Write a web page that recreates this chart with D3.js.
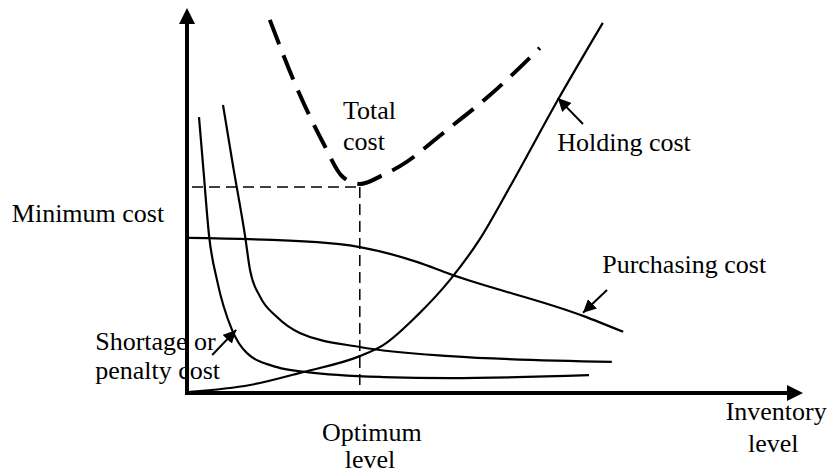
<!DOCTYPE html>
<html>
<head>
<meta charset="utf-8">
<script src="https://cdn.jsdelivr.net/npm/d3@7"></script>
<style>
  html, body { margin: 0; padding: 0; background: #fff; }
</style>
</head>
<body>
<svg id="chart" width="835" height="474"></svg>
<script>
// inventory level (x) and cost (y), both on a 0-100 schematic scale
var totalCost = [[13.8, 98.2], [18.3, 80.3], [22.7, 65.8], [26, 56.8], [28.8, 55], [32.7, 57.4], [35.5, 59.7], [43.3, 69.2], [50.5, 78.4], [58.8, 90.8]];
var holdingCost = [[0.5, 0.3], [10.5, 2.1], [19.3, 5.5], [28.8, 9.7], [32.7, 12.6], [38.3, 20.3], [43.8, 29.7], [48.8, 40.5], [53.8, 54.2], [61.8, 77.1], [69.3, 97.4]];
var purchasingCost = [[0.3, 40.8], [21.7, 39.7], [28.8, 38.4], [38.3, 34.5], [43.8, 31.3], [66, 20.3], [72.7, 16.1]];
var shortageCost = [[2, 72.6], [2.7, 59.5], [3.7, 41.1], [5, 29.7], [7.5, 16.6], [10, 10.5], [15, 6.8], [20, 5.5], [32.7, 4.2], [43.8, 3.9], [67, 4.7]];
var penaltyCost = [[6, 75.8], [7.7, 59.5], [9.7, 41.1], [10.5, 32.4], [12.2, 25.3], [15, 20], [18.8, 15.8], [28.8, 12.1], [43.8, 9.7], [70.8, 8.2]];

var optimumLevel = 28.8;
var minimumCost = 54.2;

// text labels: [text, x, y, anchor]
var labels = [
    ["Total", 26, 72.1, "start"],
    ["cost", 26, 63.9, "start"],
    ["Holding cost", 61.7, 63.7, "start"],
    ["Minimum cost", -29.2, 45, "start"],
    ["Purchasing cost", 69.2, 31.6, "start"],
    ["Shortage or", -15.3, 11.3, "start"],
    ["penalty cost", -15.3, 3.7, "start"],
    ["Optimum", 30.8, -12.6, "middle"],
    ["level", 30.5, -19.8, "middle"],
    ["Inventory", 98.2, -7.1, "middle"],
    ["level", 97.7, -15.5, "middle"]
];

// pointer arrows: [from, to]
var pointers = [
    [[66, 70.8], [61.8, 77.6]],
    [[70, 27.1], [66, 21.1]],
    [[4.2, 10], [8.2, 16.6]]
];

var svg = d3.select("#chart");

var x = d3.scaleLinear().domain([0, 100]).range([187, 787]);
var y = d3.scaleLinear().domain([0, 100]).range([393, 13]);

var defs = svg.append("defs");
defs.append("marker")
    .attr("id", "ptr")
    .attr("viewBox", "0 0 10 10")
    .attr("refX", 10).attr("refY", 5)
    .attr("markerWidth", 6.5).attr("markerHeight", 6.5)
    .attr("markerUnits", "strokeWidth")
    .attr("orient", "auto")
    .append("path").attr("d", "M0,0 L10,5 L0,10 Z").attr("fill", "#000");

// labels first so the axis and curves sit on top of them
svg.append("g").attr("class", "labels").selectAll("text")
    .data(labels)
    .enter().append("text")
    .attr("x", function(d) { return x(d[1]); })
    .attr("y", function(d) { return y(d[2]); })
    .attr("text-anchor", function(d) { return d[3]; })
    .attr("font-family", "'Liberation Serif', 'Times New Roman', Times, 'DejaVu Serif', serif")
    .attr("font-size", "26px")
    .attr("fill", "#000")
    .text(function(d) { return d[0]; });

var line = d3.line()
    .x(function(d) { return x(d[0]); })
    .y(function(d) { return y(d[1]); })
    .curve(d3.curveMonotoneX);

// guide lines at the optimum
var guides = svg.append("g").attr("class", "guides")
    .attr("stroke", "#000").attr("stroke-width", 1.5).attr("stroke-dasharray", "11,6").attr("fill", "none");
guides.append("line")
    .attr("x1", x(0) + 5).attr("x2", x(optimumLevel))
    .attr("y1", y(minimumCost)).attr("y2", y(minimumCost));
guides.append("line")
    .attr("x1", x(optimumLevel)).attr("x2", x(optimumLevel))
    .attr("y1", y(minimumCost)).attr("y2", y(0));

var curves = svg.append("g").attr("class", "curves").attr("fill", "none").attr("stroke", "#000");
[holdingCost, purchasingCost, shortageCost, penaltyCost].forEach(function(c) {
    curves.append("path").attr("d", line(c)).attr("stroke-width", 2.2);
});
curves.append("path")
    .attr("d", line(totalCost))
    .attr("stroke-width", 4)
    .attr("stroke-dasharray", "26,12");

// pointer arrows
svg.append("g").attr("class", "pointers").selectAll("line")
    .data(pointers)
    .enter().append("line")
    .attr("x1", function(d) { return x(d[0][0]); })
    .attr("y1", function(d) { return y(d[0][1]); })
    .attr("x2", function(d) { return x(d[1][0]); })
    .attr("y2", function(d) { return y(d[1][1]); })
    .attr("stroke", "#000").attr("stroke-width", 2)
    .attr("marker-end", "url(#ptr)");

// axes with arrow heads
var xTip = x(100) + 16, yTip = y(100) - 5;
var axes = svg.append("g").attr("class", "axes");
axes.append("line")
    .attr("x1", x(0)).attr("x2", x(0))
    .attr("y1", y(0) + 2).attr("y2", yTip + 14)
    .attr("stroke", "#000").attr("stroke-width", 4);
axes.append("line")
    .attr("x1", x(0) - 2).attr("x2", xTip - 14)
    .attr("y1", y(0)).attr("y2", y(0))
    .attr("stroke", "#000").attr("stroke-width", 4);
axes.append("path")
    .attr("d", "M" + x(0) + "," + yTip + " L" + (x(0) + 8) + "," + (yTip + 16) + " L" + (x(0) - 8) + "," + (yTip + 16) + " Z")
    .attr("fill", "#000");
axes.append("path")
    .attr("d", "M" + xTip + "," + y(0) + " L" + (xTip - 16) + "," + (y(0) - 8) + " L" + (xTip - 16) + "," + (y(0) + 8) + " Z")
    .attr("fill", "#000");
</script>
</body>
</html>
